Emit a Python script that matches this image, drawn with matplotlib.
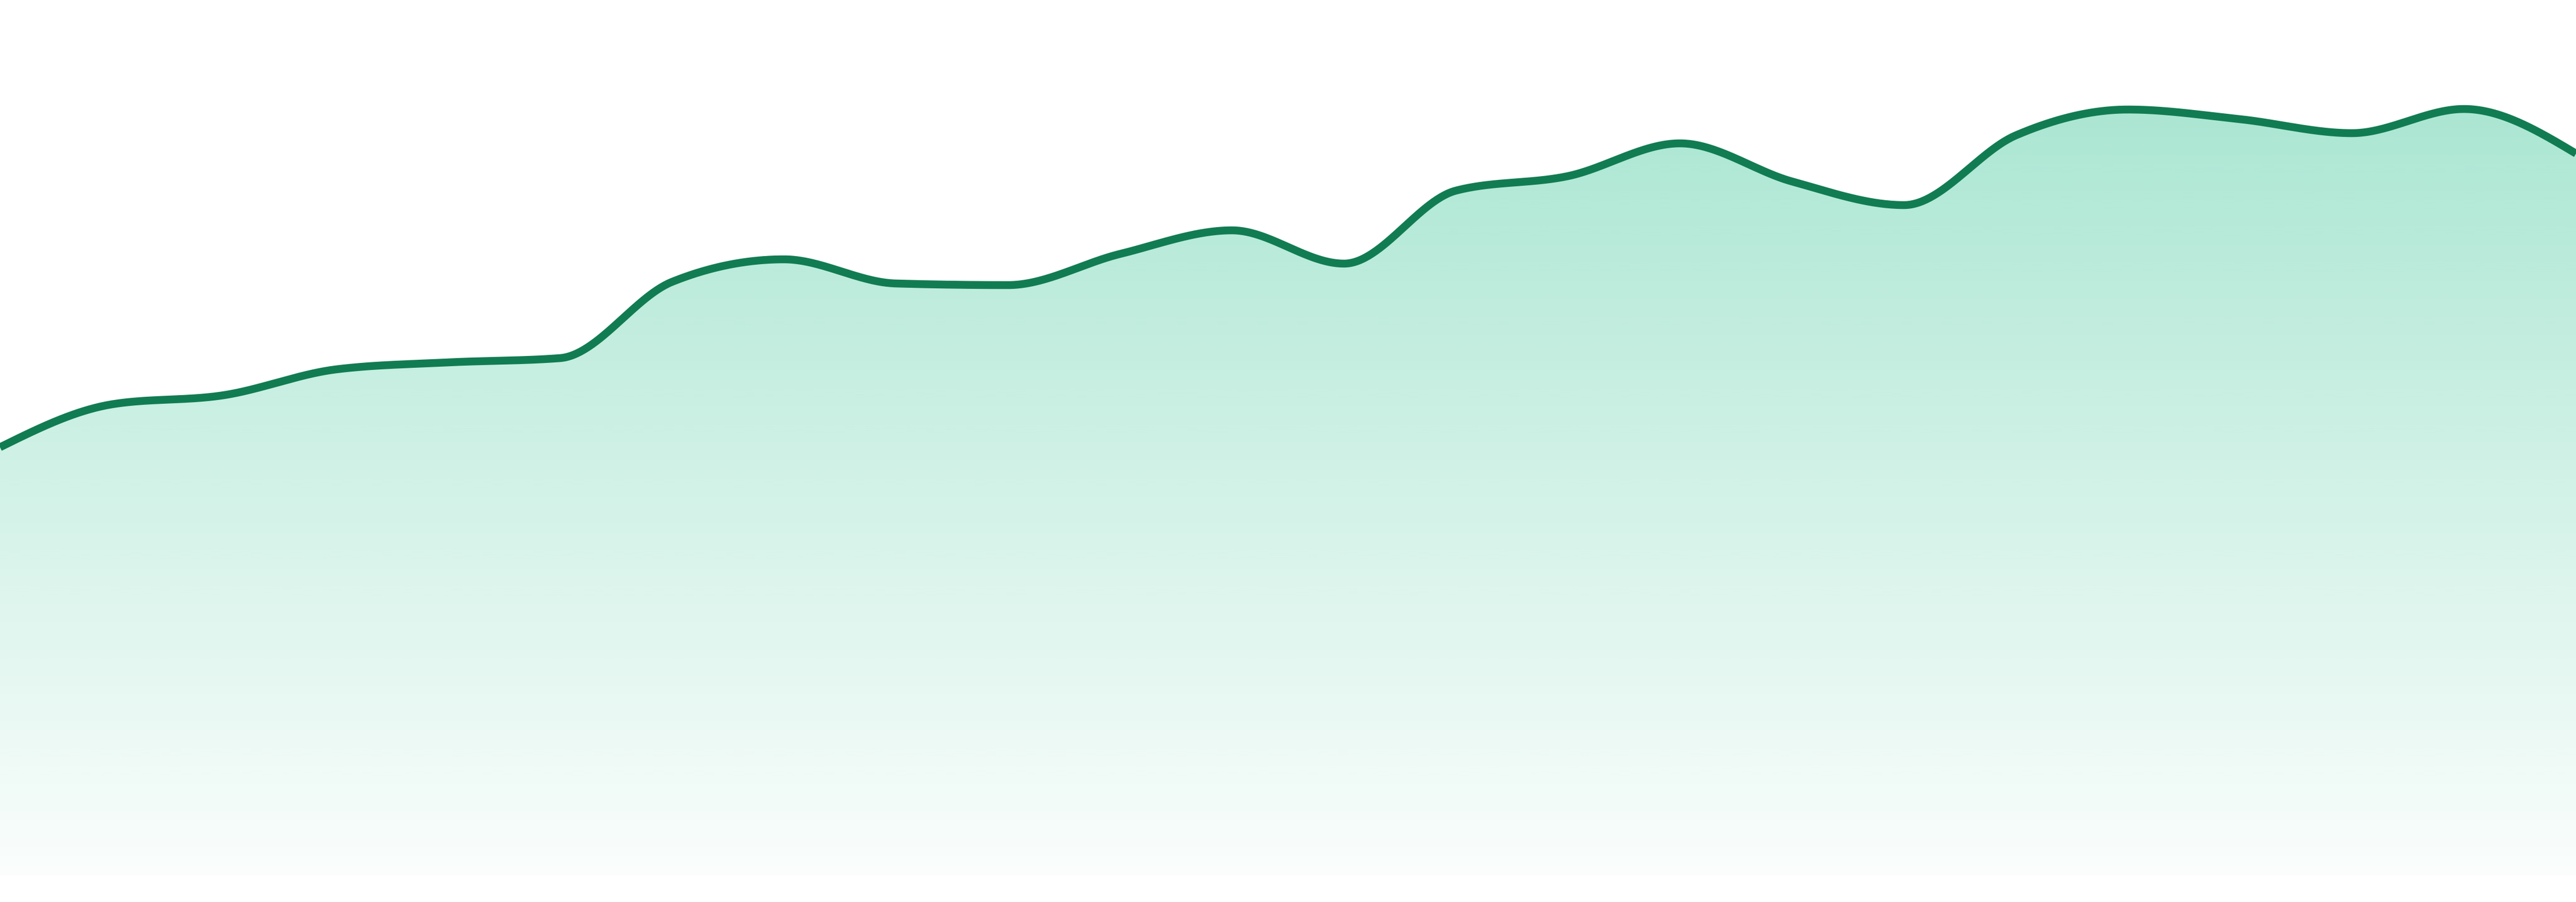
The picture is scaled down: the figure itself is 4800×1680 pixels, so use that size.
import numpy as np
import matplotlib.pyplot as plt
from matplotlib.colors import to_rgb

# values (24 evenly spaced samples)
steps = list(range(24))
values = [79.7, 87.7, 89.4, 94.2, 95.5, 96.3, 110.5, 114.7, 110.2, 109.9,
          115.7, 120.1, 113.9, 127.5, 130.2, 136.3, 129.2, 124.8, 137.8, 142.6,
          140.8, 138.2, 142.7, 134.4]

line_color = "#117c52"
fill_color = "#10b981"


def monotone_curve(x, y, n=60):
    # monotone cubic interpolation (like d3 curveMonotoneX)
    x = np.asarray(x, float)
    y = np.asarray(y, float)
    h = np.diff(x)
    s = np.diff(y) / h
    t = np.zeros(len(x))
    for i in range(1, len(x) - 1):
        p = (s[i - 1] * h[i] + s[i] * h[i - 1]) / (h[i - 1] + h[i])
        t[i] = (np.sign(s[i - 1]) + np.sign(s[i])) * min(abs(s[i - 1]), abs(s[i]), 0.5 * abs(p))
    t[0] = (3 * s[0] - t[1]) / 2
    t[-1] = (3 * s[-1] - t[-2]) / 2
    xs, ys = [], []
    for i in range(len(x) - 1):
        u = np.linspace(0, 1, n, endpoint=False)
        h00 = 2 * u**3 - 3 * u**2 + 1
        h10 = u**3 - 2 * u**2 + u
        h01 = -2 * u**3 + 3 * u**2
        h11 = u**3 - u**2
        xs.append(x[i] + u * h[i])
        ys.append(h00 * y[i] + h10 * h[i] * t[i] + h01 * y[i + 1] + h11 * h[i] * t[i + 1])
    xs.append([x[-1]])
    ys.append([y[-1]])
    return np.concatenate(xs), np.concatenate(ys)


cx, cy = monotone_curve(steps, values)

fig = plt.figure(figsize=(48, 16.8), dpi=100)
ax = fig.add_axes([0, 0, 1, 1])
ax.set_xlim(0, 23)
ax.set_ylim(-5, 163)
ax.axis("off")

# gradient fill under the curve
area = ax.fill_between(cx, 0, cy, facecolor="none", edgecolor="none")
rgb = to_rgb(fill_color)
grad = np.zeros((256, 1, 4))
grad[:, 0, 0] = rgb[0]
grad[:, 0, 1] = rgb[1]
grad[:, 0, 2] = rgb[2]
grad[:, 0, 3] = np.linspace(0.40, 0.02, 256)
img = ax.imshow(grad, aspect="auto", extent=[0, 23, 0, 163], origin="upper",
                interpolation="bilinear", zorder=1)
img.set_clip_path(area.get_paths()[0], transform=ax.transData)

ax.plot(cx, cy, color=line_color, linewidth=10.5, solid_capstyle="butt", zorder=2)

fig.savefig("out.png", dpi=100, facecolor="white")
